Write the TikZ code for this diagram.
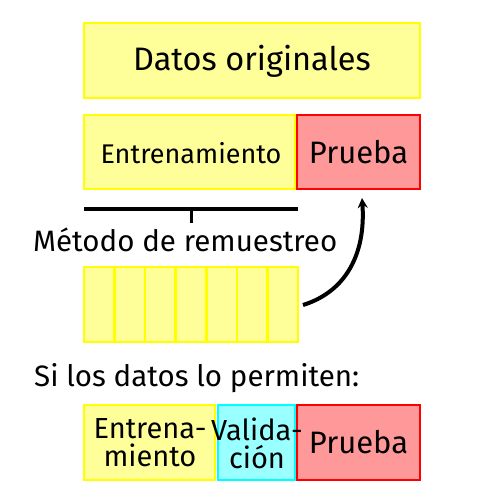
\documentclass[tikz,border=0pt]{standalone}
\usepackage{fontspec}
\setmainfont{Fira Sans}
\usetikzlibrary{arrows.meta}
\definecolor{ylwfill}{HTML}{FFFF99}
\definecolor{ylwline}{HTML}{FFFF00}
\definecolor{redfill}{HTML}{FF9999}
\definecolor{redline}{HTML}{FF0000}
\definecolor{cyanfill}{HTML}{99FFFF}
\definecolor{cyanline}{HTML}{00FFFF}
\tikzset{
  ybox/.style={draw=ylwline, fill=ylwfill, line width=2.5pt},
  rbox/.style={draw=redline, fill=redfill, line width=2.5pt},
  cbox/.style={draw=cyanline, fill=cyanfill, line width=2.5pt},
  lbl/.style={font=\fontsize{31}{32}\selectfont, text=black, align=center, inner sep=0pt},
  plbl/.style={font=\fontsize{29.5}{32}\selectfont, text=black, align=center, inner sep=0pt},
  slbl/.style={font=\fontsize{27}{28}\selectfont, text=black, align=center, inner sep=0pt},
  blbl/.style={font=\fontsize{29}{28}\selectfont, text=black, align=center, inner sep=0pt},
}
\begin{document}
\begin{tikzpicture}[x=1pt,y=-1pt]
\useasboundingbox (0,0) rectangle (504,504);
% top box
\draw[ybox] (84,23) rectangle (420,98);
\node[font=\fontsize{32.5}{34}\selectfont, inner sep=0pt] (orig) at (252,61) {Datos originales};
% split
\draw[ybox] (84,115) rectangle (295,189);
\node[slbl] (train) at (191,153) {Entrenamiento};
\draw[rbox] (297,115) rectangle (420,189);
\node[lbl] (test) at (358.5,152) {Prueba};
% bracket
\draw[line width=4pt] (84,209) -- (298,209);
\draw[line width=3pt] (191,209) -- (191,223);
\node[plbl, anchor=west] (metodo) at (33,240) {Método de remuestreo};
% cells
\foreach \i in {0,...,6}{
  \draw[ybox] ({84+\i*30.57},267) rectangle ({84+(\i+1)*30.57},342);
}
\coordinate (cellsend) at (303,305);
\coordinate (arrtip) at (362,198);
\draw[line width=4pt, -{Stealth[length=10pt,width=10pt]}] (cellsend) .. controls (345,292) and (366,255) .. (arrtip);
% permit
\node[plbl, anchor=west] (permit) at (34,378) {Si los datos lo permiten:};
% bottom
\draw[ybox] (84,405) rectangle (215,480);
\draw[cbox] (218,405) rectangle (295,480);
\draw[rbox] (297,405) rectangle (420,480);
\node[blbl] (tr2) at (150,443) {Entrena-\\miento};
\node[blbl] (val) at (257,443) {Valida-\\ción};
\node[lbl] (te2) at (358.5,442) {Prueba};
\end{tikzpicture}
\end{document}
